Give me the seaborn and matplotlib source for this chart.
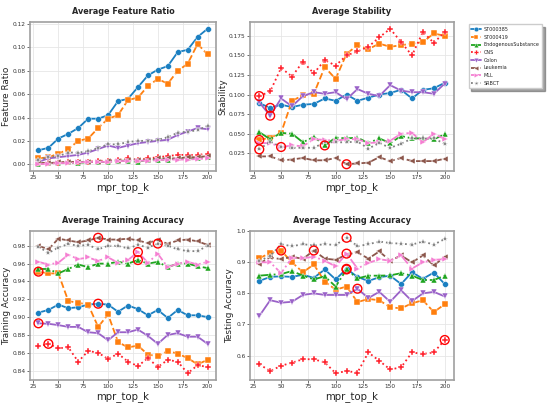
import numpy as np
import pandas as pd
import matplotlib
matplotlib.use("Agg")
import matplotlib.pyplot as plt
import seaborn as sns

x_vals = [30, 40, 50, 60, 70, 80, 90, 100, 110, 120, 130, 140, 150, 160, 170, 180, 190, 200]
datasets = ["ST000385", "ST000419", "EndogenousSubstance", "CNS", "Colon", "Leukemia", "MLL", "SRBCT"]

feature_ratio = {
    "ST000385": [0.012, 0.014, 0.022, 0.026, 0.031, 0.039, 0.039, 0.042, 0.054, 0.056, 0.066, 0.076, 0.081, 0.084, 0.096, 0.098, 0.109, 0.116],
    "ST000419": [0.005, 0.006, 0.009, 0.013, 0.020, 0.022, 0.031, 0.039, 0.042, 0.055, 0.057, 0.067, 0.073, 0.069, 0.080, 0.086, 0.103, 0.094],
    "EndogenousSubstance": [0.0005, 0.001, 0.001, 0.0015, 0.001, 0.002, 0.002, 0.002, 0.003, 0.003, 0.002, 0.004, 0.004, 0.004, 0.005, 0.005, 0.005, 0.006],
    "CNS": [0.001, 0.001, 0.001, 0.002, 0.002, 0.002, 0.003, 0.003, 0.004, 0.005, 0.004, 0.005, 0.006, 0.007, 0.008, 0.008, 0.008, 0.009],
    "Colon": [0.002, 0.005, 0.006, 0.007, 0.008, 0.010, 0.013, 0.016, 0.014, 0.016, 0.018, 0.019, 0.020, 0.021, 0.025, 0.028, 0.031, 0.030],
    "Leukemia": [0.001, 0.001, 0.0015, 0.002, 0.002, 0.002, 0.002, 0.003, 0.003, 0.004, 0.004, 0.004, 0.005, 0.005, 0.005, 0.006, 0.006, 0.007],
    "MLL": [0.000, 0.0005, 0.001, 0.001, 0.0015, 0.002, 0.002, 0.002, 0.0025, 0.003, 0.003, 0.003, 0.0035, 0.004, 0.004, 0.004, 0.0045, 0.005],
    "SRBCT": [0.004, 0.006, 0.007, 0.010, 0.010, 0.011, 0.014, 0.017, 0.017, 0.019, 0.020, 0.020, 0.021, 0.023, 0.027, 0.028, 0.029, 0.033],
}

stability = {
    "ST000385": [0.089, 0.083, 0.087, 0.084, 0.087, 0.088, 0.095, 0.092, 0.100, 0.092, 0.096, 0.100, 0.102, 0.106, 0.095, 0.106, 0.108, 0.115],
    "ST000419": [0.042, 0.045, 0.051, 0.092, 0.099, 0.101, 0.135, 0.120, 0.152, 0.163, 0.158, 0.165, 0.161, 0.163, 0.165, 0.167, 0.178, 0.175],
    "EndogenousSubstance": [0.052, 0.043, 0.051, 0.050, 0.039, 0.046, 0.035, 0.045, 0.044, 0.045, 0.038, 0.044, 0.038, 0.047, 0.044, 0.044, 0.043, 0.049],
    "CNS": [0.098, 0.104, 0.134, 0.123, 0.142, 0.127, 0.144, 0.137, 0.150, 0.155, 0.161, 0.173, 0.184, 0.167, 0.150, 0.180, 0.166, 0.180],
    "Colon": [0.090, 0.073, 0.095, 0.085, 0.098, 0.103, 0.101, 0.103, 0.094, 0.107, 0.101, 0.098, 0.112, 0.105, 0.103, 0.103, 0.101, 0.114],
    "Leukemia": [0.021, 0.021, 0.016, 0.017, 0.019, 0.016, 0.016, 0.019, 0.011, 0.012, 0.013, 0.020, 0.015, 0.019, 0.015, 0.015, 0.015, 0.018],
    "MLL": [0.038, 0.038, 0.033, 0.035, 0.034, 0.043, 0.042, 0.041, 0.043, 0.043, 0.038, 0.039, 0.041, 0.050, 0.051, 0.039, 0.050, 0.043],
    "SRBCT": [0.030, 0.040, 0.033, 0.032, 0.032, 0.032, 0.039, 0.039, 0.039, 0.040, 0.031, 0.038, 0.032, 0.037, 0.044, 0.044, 0.044, 0.037],
}

train_acc = {
    "ST000385": [0.905, 0.908, 0.914, 0.910, 0.911, 0.914, 0.915, 0.914, 0.906, 0.913, 0.909, 0.902, 0.908, 0.899, 0.908, 0.902, 0.902, 0.900],
    "ST000419": [0.951, 0.949, 0.949, 0.918, 0.916, 0.914, 0.889, 0.903, 0.872, 0.866, 0.868, 0.858, 0.856, 0.862, 0.859, 0.854, 0.847, 0.852],
    "EndogenousSubstance": [0.954, 0.954, 0.949, 0.954, 0.959, 0.956, 0.960, 0.960, 0.962, 0.960, 0.964, 0.960, 0.962, 0.956, 0.960, 0.960, 0.957, 0.955],
    "CNS": [0.867, 0.870, 0.865, 0.866, 0.850, 0.862, 0.860, 0.853, 0.859, 0.850, 0.845, 0.854, 0.844, 0.852, 0.850, 0.837, 0.846, 0.844],
    "Colon": [0.893, 0.8925, 0.891, 0.889, 0.889, 0.883, 0.882, 0.874, 0.883, 0.883, 0.886, 0.879, 0.870, 0.880, 0.882, 0.878, 0.878, 0.870],
    "Leukemia": [0.980, 0.976, 0.988, 0.986, 0.984, 0.986, 0.989, 0.987, 0.987, 0.988, 0.986, 0.983, 0.987, 0.982, 0.986, 0.987, 0.985, 0.981],
    "MLL": [0.962, 0.959, 0.961, 0.970, 0.965, 0.967, 0.963, 0.967, 0.961, 0.964, 0.973, 0.961, 0.971, 0.956, 0.960, 0.962, 0.959, 0.962],
    "SRBCT": [0.979, 0.972, 0.978, 0.982, 0.980, 0.981, 0.976, 0.980, 0.980, 0.977, 0.981, 0.978, 0.9825, 0.980, 0.976, 0.974, 0.974, 0.980],
}

test_acc = {
    "ST000385": [0.840, 0.853, 0.855, 0.853, 0.860, 0.850, 0.877, 0.845, 0.879, 0.853, 0.840, 0.852, 0.857, 0.830, 0.868, 0.847, 0.867, 0.830],
    "ST000419": [0.913, 0.930, 0.938, 0.900, 0.868, 0.893, 0.838, 0.812, 0.822, 0.772, 0.782, 0.778, 0.755, 0.752, 0.768, 0.778, 0.740, 0.765],
    "EndogenousSubstance": [0.857, 0.860, 0.862, 0.872, 0.857, 0.845, 0.855, 0.822, 0.877, 0.848, 0.857, 0.857, 0.858, 0.865, 0.857, 0.843, 0.843, 0.857],
    "CNS": [0.572, 0.550, 0.567, 0.577, 0.588, 0.588, 0.578, 0.543, 0.550, 0.545, 0.610, 0.583, 0.555, 0.562, 0.610, 0.605, 0.610, 0.650],
    "Colon": [0.727, 0.778, 0.770, 0.773, 0.795, 0.800, 0.795, 0.795, 0.795, 0.815, 0.785, 0.805, 0.773, 0.810, 0.775, 0.800, 0.805, 0.790],
    "Leukemia": [0.896, 0.916, 0.910, 0.918, 0.911, 0.938, 0.912, 0.908, 0.925, 0.932, 0.912, 0.935, 0.905, 0.922, 0.900, 0.922, 0.890, 0.918],
    "MLL": [0.900, 0.900, 0.865, 0.915, 0.913, 0.918, 0.905, 0.887, 0.928, 0.880, 0.898, 0.910, 0.905, 0.922, 0.880, 0.900, 0.908, 0.910],
    "SRBCT": [0.905, 0.920, 0.958, 0.952, 0.958, 0.955, 0.958, 0.956, 0.979, 0.952, 0.958, 0.967, 0.962, 0.960, 0.957, 0.967, 0.957, 0.975],
}

panels = [
    ("Average Feature Ratio", "Feature Ratio", feature_ratio, None),
    ("Average Stability", "Stability", stability, "min"),
    ("Average Training Accuracy", "Training Accuracy", train_acc, "max"),
    ("Average Testing Accuracy", "Testing Accuracy", test_acc, "max"),
]

colors = {
    "ST000385": "#1a7fc1", "ST000419": "#ff7f0e", "EndogenousSubstance": "#1fa51f",
    "CNS": "#ff1f2a", "Colon": "#9a62c8", "Leukemia": "#8c564b", "MLL": "#f57fd2",
    "SRBCT": "#7f7f7f",
}
markers = {
    "ST000385": "o", "ST000419": "s", "EndogenousSubstance": "^", "CNS": "P",
    "Colon": "v", "Leukemia": "<", "MLL": ">", "SRBCT": "*",
}
dashes = {
    "ST000385": "", "ST000419": (3.7, 1.6), "EndogenousSubstance": (6.4, 1.6, 1, 1.6),
    "CNS": (1, 1.65), "Colon": "", "Leukemia": (3.7, 1.6), "MLL": (6.4, 1.6, 1, 1.6),
    "SRBCT": (1, 1.65),
}

sns.set_theme(style="whitegrid")
plt.rcParams["font.family"] = ["DejaVu Sans"]

fig = plt.figure(figsize=(5.5, 4.03), dpi=100)
rects = [
    (30 / 550, 1 - 171 / 403, 186 / 550, 149 / 403),
    (250 / 550, 1 - 171 / 403, 204 / 550, 149 / 403),
    (30 / 550, 1 - 380 / 403, 186 / 550, 149 / 403),
    (250 / 550, 1 - 380 / 403, 204 / 550, 149 / 403),
]

for i, (title, ylabel, data, hl) in enumerate(panels):
    ax = fig.add_axes(rects[i])
    rows = []
    for name in datasets:
        for xv, yv in zip(x_vals, data[name]):
            rows.append({"mpr_top_k": xv, "value": yv, "dataset": name})
    df = pd.DataFrame(rows)
    sns.lineplot(data=df, x="mpr_top_k", y="value", hue="dataset", style="dataset",
                 hue_order=datasets, style_order=datasets, palette=colors,
                 markers=markers, dashes=dashes, markersize=4.2, linewidth=1.3,
                 markeredgewidth=0.3, ax=ax, legend=(i == 1))
    if hl is not None:
        for name in datasets:
            sub = df[df["dataset"] == name]
            idx = sub["value"].idxmin() if hl == "min" else sub["value"].idxmax()
            ax.scatter([df.loc[idx, "mpr_top_k"]], [df.loc[idx, "value"]], s=40,
                       facecolors="none", edgecolors="red", linewidths=1.0, zorder=5)
    ax.set_title(title, fontsize=5.9, fontweight="bold", pad=6)
    ax.set_xlabel("mpr_top_k", fontsize=7.3, labelpad=1)
    ax.set_ylabel(ylabel, fontsize=6.4, labelpad=1.2)
    ax.set_xticks([25, 50, 75, 100, 125, 150, 175, 200])
    ax.tick_params(axis="both", labelsize=4.2, length=2, width=0.5, pad=1.2,
                   colors="#333333", bottom=True, left=True)
    ax.grid(True, color="#e6e6e6", linewidth=0.6)
    for sp in ax.spines.values():
        sp.set_color("#a0a0a0")
        sp.set_linewidth(1.2)
    if i == 1:
        handles, labels = ax.get_legend_handles_labels()
        ax.legend(handles, labels, loc="upper left", bbox_to_anchor=(1.06, 1.0),
                  fontsize=3.5, frameon=True, fancybox=False, shadow=True,
                  handlelength=2.0, handletextpad=0.6, borderpad=0.5,
                  labelspacing=0.55, edgecolor="#cccccc", markerscale=0.8)

fig.savefig("out.png", dpi=100)
